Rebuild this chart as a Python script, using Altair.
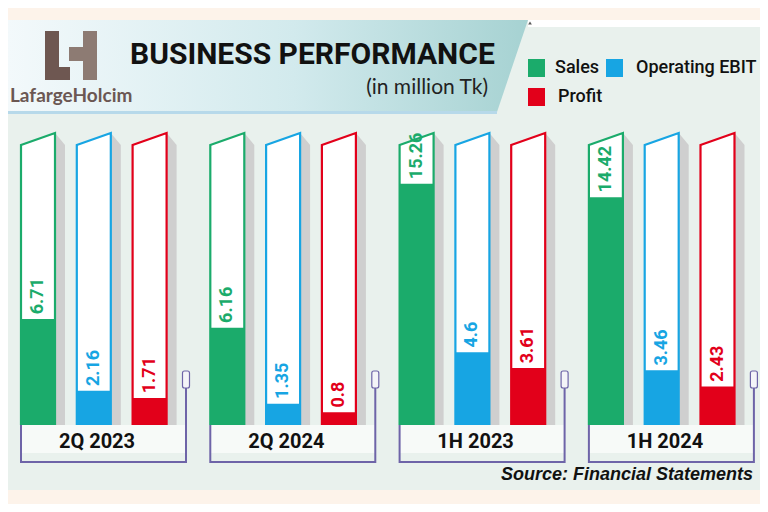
import altair as alt
import pandas as pd

# ---------------- data ----------------
periods = ["2Q 2023", "2Q 2024", "1H  2023", "1H 2024"]
series = ["Sales", "Operating EBIT", "Profit"]
colors = ["#1bab6b", "#17a5e3", "#e2001a"]
sales = [6.71, 6.16, 15.26, 14.42]
ebit = [2.16, 1.35, 4.6, 3.46]
profit = [1.71, 0.8, 3.61, 2.43]
value_labels = [["6.71", "2.16", "1.71"], ["6.16", "1.35", "0.8"],
                ["15.26", "4.6", "3.61"], ["14.42", "3.46", "2.43"]]

# ---------------- layout constants ----------------
W, H = 752, 496
G0, GSTEP, SSTEP, BW, SHW = 21.0, 189.3, 55.8, 34.0, 10.0
CAP_L, CAP_R = 17.72, 18.48          # container top (value units) left / right
V_MIN, V_MAX = -5.0, 26.39           # value-axis domain covering the canvas
BRACKET_W = 165.0
COND = "Roboto, Liberation Sans, sans-serif"
BRACKET_COL = "#6e64a8"

xs = alt.Scale(domain=[8, 760], nice=False, zero=False)
vs = alt.Scale(domain=[V_MIN, V_MAX], nice=False, zero=False)
ps = alt.Scale(domain=[8, 504], nice=False, zero=False, reverse=True)
cs = alt.Scale(domain=series, range=colors)

vals = [sales, ebit, profit]
bars, shadow, cont, outline = [], [], [], []
for g, per in enumerate(periods):
    for s, ser in enumerate(series):
        xl = G0 + g * GSTEP + s * SSTEP
        xr = xl + BW
        bid = f"{g}-{s}"
        v = vals[s][g]
        bars.append(dict(id=bid, series=ser, xl=xl, xr=xr, xc=(xl + xr) / 2,
                         value=v, zero=0.0, lab=value_labels[g][s], ly=v + 0.3))
        shadow += [dict(id=bid, x=xr, v=CAP_R, v2=0.0), dict(id=bid, x=xr + SHW, v=CAP_L, v2=0.0)]
        cont += [dict(id=bid, x=xl, v=CAP_L, v2=0.0), dict(id=bid, x=xr, v=CAP_R, v2=0.0)]
        outline += [dict(id=bid, series=ser, x=xl, v=0.0, o=0), dict(id=bid, series=ser, x=xl, v=CAP_L, o=1),
                    dict(id=bid, series=ser, x=xr, v=CAP_R, o=2), dict(id=bid, series=ser, x=xr, v=0.0, o=3)]
bars = pd.DataFrame(bars)
shadow = pd.DataFrame(shadow)
cont = pd.DataFrame(cont)
outline = pd.DataFrame(outline)

groups, brackets = [], []
for g, per in enumerate(periods):
    gl = G0 + g * GSTEP
    groups.append(dict(period=per, gl=gl, gr=gl + BRACKET_W, lx=gl + 76, ly=442,
                       bt=425, bb=453, il=gl + BRACKET_W - 3.5, ir=gl + BRACKET_W + 3.5, it=371, ib=388))
    for o, (x, y) in enumerate([(gl, 425), (gl, 462), (gl + BRACKET_W, 462), (gl + BRACKET_W, 388)]):
        brackets.append(dict(period=per, x=x, py=y, o=o))
groups = pd.DataFrame(groups)
brackets = pd.DataFrame(brackets)

one = pd.DataFrame({"a": [0]})

# ---------------- decorations ----------------
bg_main = alt.Chart(one).mark_rect(color="#e9f1ed").encode(
    x=alt.value(0), x2=alt.value(W), y=alt.value(12), y2=alt.value(482))
white_strip = alt.Chart(one).mark_rect(color="#ffffff").encode(
    x=alt.value(520), x2=alt.value(W), y=alt.value(12), y2=alt.value(19))
header_df = pd.DataFrame({"x": [8, 497, 528], "top": [20, 20, 20], "bot": [112, 112, 20]})
header = alt.Chart(header_df).mark_area(
    color=alt.Gradient(gradient="linear",
                       stops=[alt.GradientStop(color="#f3f9fb", offset=0),
                              alt.GradientStop(color="#d2eaed", offset=0.55),
                              alt.GradientStop(color="#a6d2d2", offset=1)],
                       x1=0, x2=1, y1=0, y2=0)
).encode(x=alt.X("x:Q", scale=xs, axis=None),
         y=alt.Y("top:Q", scale=ps, axis=None), y2="bot:Q")
header_line = alt.Chart(one).mark_rect(color="#b7d9ea").encode(
    x=alt.value(0), x2=alt.value(489), y=alt.value(103), y2=alt.value(106))
tri = alt.Chart(one).mark_point(shape="triangle-up", filled=True, color="#111", size=14).encode(
    x=alt.value(522), y=alt.value(15))

logo_df = pd.DataFrame({
    "x1": [45, 45, 69, 83], "x2": [59, 70, 84, 97],
    "y1": [31, 67, 47, 31], "y2": [80, 80, 61, 80],
    "c": ["#6e5751", "#6e5751", "#8d7b73", "#8d7b73"]})
logo = alt.Chart(logo_df).mark_rect().encode(
    x=alt.X("x1:Q", scale=xs, axis=None), x2="x2:Q",
    y=alt.Y("y1:Q", scale=ps, axis=None), y2="y2:Q",
    color=alt.Color("c:N", scale=None))
logo_text = alt.Chart(one).mark_text(text="LafargeHolcim", font="Lato, Open Sans, sans-serif",
                                     fontWeight="bold", fontSize=19, color="#6b5753",
                                     align="left", baseline="middle", x=2, y=88)
title = alt.Chart(one).mark_text(text="BUSINESS PERFORMANCE", font=COND, fontWeight="bold",
                                 fontSize=30, color="#111111", align="left",
                                 baseline="alphabetic", x=122, y=56)
subtitle = alt.Chart(one).mark_text(text="(in million Tk)", font="Lato, Open Sans, sans-serif",
                                    fontSize=21, color="#222222", align="right",
                                    baseline="alphabetic", x=480, y=86)

legend_df = pd.DataFrame({"series": series,
                          "sx": [528, 606, 528], "sy": [59, 59, 88],
                          "tx": [555, 636, 558], "ty": [68, 68, 97]})
legend_df["sx2"] = legend_df["sx"] + 17
legend_df["sy2"] = legend_df["sy"] + 18
leg_sq = alt.Chart(legend_df).mark_rect().encode(
    x=alt.X("sx:Q", scale=xs, axis=None), x2="sx2:Q",
    y=alt.Y("sy:Q", scale=ps, axis=None), y2="sy2:Q",
    color=alt.Color("series:N", scale=cs, legend=None))
leg_tx = alt.Chart(legend_df).mark_text(font=COND, fontSize=18, fontWeight=500, color="#111111",
                                        align="left", baseline="middle").encode(
    x=alt.X("tx:Q", scale=xs, axis=None), y=alt.Y("ty:Q", scale=ps, axis=None), text="series:N")

# ---------------- bars ----------------
shadow_l = alt.Chart(shadow).mark_area(color="#cfcfcf").encode(
    x=alt.X("x:Q", scale=xs, axis=None), y=alt.Y("v:Q", scale=vs, axis=None), y2="v2:Q",
    detail="id:N")
cont_l = alt.Chart(cont).mark_area(color="#ffffff").encode(
    x=alt.X("x:Q", scale=xs, axis=None), y=alt.Y("v:Q", scale=vs, axis=None), y2="v2:Q",
    detail="id:N")
outline_l = alt.Chart(outline).mark_line(strokeWidth=2.2).encode(
    x=alt.X("x:Q", scale=xs, axis=None), y=alt.Y("v:Q", scale=vs, axis=None),
    detail="id:N", order="o:Q", color=alt.Color("series:N", scale=cs, legend=None))
fill_l = alt.Chart(bars).mark_rect().encode(
    x=alt.X("xl:Q", scale=xs, axis=None), x2="xr:Q",
    y=alt.Y("zero:Q", scale=vs, axis=None), y2="value:Q",
    color=alt.Color("series:N", scale=cs, legend=None))
label_l = alt.Chart(bars).mark_text(font=COND, fontWeight="bold", fontSize=18, angle=270,
                                    align="left", baseline="middle").encode(
    x=alt.X("xc:Q", scale=xs, axis=None), y=alt.Y("ly:Q", scale=vs, axis=None), text="lab:N",
    color=alt.Color("series:N", scale=cs, legend=None))

# ---------------- group labels & brackets ----------------
box_l = alt.Chart(groups).mark_rect(color="#f7faf8").encode(
    x=alt.X("gl:Q", scale=xs, axis=None), x2="gr:Q",
    y=alt.Y("bt:Q", scale=ps, axis=None), y2="bb:Q")
bracket_l = alt.Chart(brackets).mark_line(color=BRACKET_COL, strokeWidth=2).encode(
    x=alt.X("x:Q", scale=xs, axis=None), y=alt.Y("py:Q", scale=ps, axis=None),
    detail="period:N", order="o:Q")
icon_l = alt.Chart(groups).mark_rect(color="#f4f4f8", stroke=BRACKET_COL, strokeWidth=1.2,
                                     cornerRadius=2).encode(
    x=alt.X("il:Q", scale=xs, axis=None), x2="ir:Q",
    y=alt.Y("it:Q", scale=ps, axis=None), y2="ib:Q")
glab_l = alt.Chart(groups).mark_text(font=COND, fontWeight="bold", fontSize=20, color="#111111",
                                     align="center", baseline="middle").encode(
    x=alt.X("lx:Q", scale=xs, axis=None), y=alt.Y("ly:Q", scale=ps, axis=None), text="period:N")
source = alt.Chart(one).mark_text(text="Source: Financial Statements",
                                  font="Liberation Sans, Arial, sans-serif", fontWeight="bold",
                                  fontStyle="italic", fontSize=18, color="#111111",
                                  align="right", baseline="middle", x=745, y=467)

chart = alt.layer(
    bg_main, white_strip, header, header_line, tri, logo, logo_text, title, subtitle,
    leg_sq, leg_tx,
    box_l, bracket_l, icon_l, glab_l,
    shadow_l, cont_l, outline_l, fill_l, label_l,
    source,
).resolve_scale(y="independent").properties(
    width=W, height=H, autosize=alt.AutoSizeParams(type="none"), padding=0,
    background="#fdf3ea"
).configure_view(stroke=None)

chart.save("out.html", embed_options={"renderer": "svg", "actions": False})
